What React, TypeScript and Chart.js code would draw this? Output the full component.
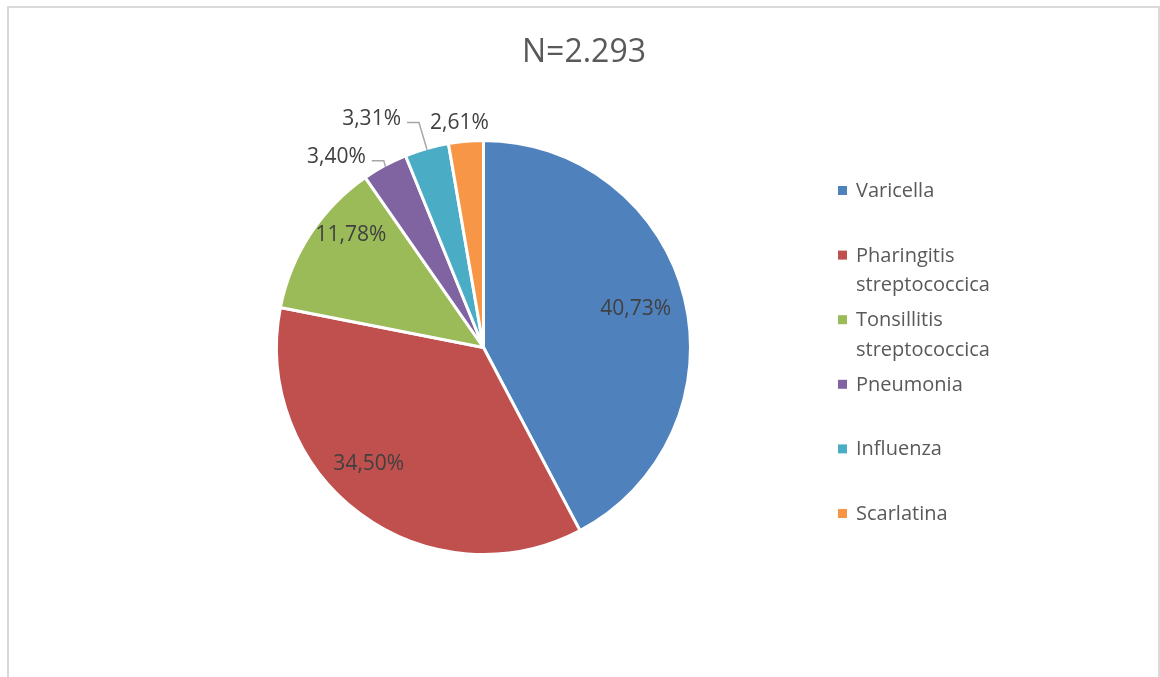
import React, { useEffect, useRef } from "react";
import { Chart, registerables } from "chart.js";

Chart.register(...registerables);

const titleText = "N=2.293";
const categories = [
  "Varicella",
  "Pharingitis streptococcica",
  "Tonsillitis streptococcica",
  "Pneumonia",
  "Influenza",
  "Scarlatina",
];
const percentages = [40.73, 34.5, 11.78, 3.4, 3.31, 2.61];
const sliceColors = ["#4F81BD", "#C0504D", "#9BBB59", "#8064A2", "#4BACC6", "#F79646"];

const FONT = "'Open Sans', 'DejaVu Sans', sans-serif";

// label placement: radius fraction, angle shift (deg), leader line
const labelPlacement = [
  { r: 0.76, dA: -0.9, leader: false },
  { r: 0.784, dA: 8.3, leader: false },
  { r: 0.844, dA: 7.5, leader: false },
  { r: 1.168, dA: -9, leader: true },
  { r: 1.236, dA: -10, leader: true },
  { r: 1.098, dA: -1.2, leader: false },
];

const fmt = (v: number) => v.toFixed(2).replace(".", ",") + "%";

const overlayPlugin = {
  id: "overlay",
  afterDraw(chart: any) {
    const ctx = chart.ctx as CanvasRenderingContext2D;
    const meta = chart.getDatasetMeta(0);
    const data = chart.data.datasets[0].data as number[];
    ctx.save();

    // Title
    ctx.fillStyle = "#595959";
    ctx.font = `32px ${FONT}`;
    ctx.textAlign = "center";
    ctx.textBaseline = "alphabetic";
    ctx.fillText(titleText, 584, 62);

    // Data labels
    ctx.font = `21px ${FONT}`;
    meta.data.forEach((arc: any, i: number) => {
      const p = arc.getProps(["x", "y", "startAngle", "endAngle", "outerRadius"], true);
      const mid = (p.startAngle + p.endAngle) / 2;
      const pl = labelPlacement[i];
      const a = mid + (pl.dA * Math.PI) / 180;
      const lx = p.x + pl.r * p.outerRadius * Math.cos(a);
      const ly = p.y + pl.r * p.outerRadius * Math.sin(a);
      const text = fmt(data[i]);
      const w = ctx.measureText(text).width;
      ctx.fillStyle = "#404040";
      ctx.textAlign = "center";
      ctx.fillText(text, lx, ly + 7.5);
      if (pl.leader) {
        const ex = p.x + (p.outerRadius - 1.5) * Math.cos(mid);
        const ey = p.y + (p.outerRadius - 1.5) * Math.sin(mid);
        const sx = lx + w / 2 + 6;
        const sy = ly + 5;
        ctx.strokeStyle = "#A6A6A6";
        ctx.lineWidth = 1.5;
        ctx.beginPath();
        ctx.moveTo(sx, sy);
        ctx.lineTo(sx + 12, sy);
        ctx.lineTo(ex, ey);
        ctx.stroke();
      }
    });

    // Legend
    ctx.font = `20px ${FONT}`;
    ctx.textAlign = "left";
    const labels = chart.data.labels as string[];
    const colors = chart.data.datasets[0].backgroundColor as string[];
    const maxW = 150;
    labels.forEach((label, i) => {
      const cy = 190 + i * 64.6;
      ctx.fillStyle = colors[i];
      ctx.fillRect(838, cy - 4, 9, 9);
      const words = label.split(" ");
      const lines: string[] = [];
      let cur = "";
      words.forEach((wd) => {
        const t = cur ? cur + " " + wd : wd;
        if (cur && ctx.measureText(t).width > maxW) {
          lines.push(cur);
          cur = wd;
        } else cur = t;
      });
      if (cur) lines.push(cur);
      ctx.fillStyle = "#595959";
      lines.forEach((ln, k) => ctx.fillText(ln, 856, cy + 7 + k * 29.5));
    });

    ctx.restore();
  },
};

export default function App() {
  const ref = useRef<HTMLCanvasElement>(null);
  useEffect(() => {
    if (!ref.current) return;
    const chart = new Chart(ref.current, {
      type: "pie",
      data: {
        labels: categories,
        datasets: [
          {
            data: percentages,
            backgroundColor: sliceColors,
            borderColor: "#FFFFFF",
            borderWidth: 3,
          },
        ],
      },
      options: {
        responsive: false,
        animation: false,
        devicePixelRatio: 1,
        layout: { padding: { left: 275, top: 139, right: 468, bottom: 121 } },
        plugins: {
          legend: { display: false },
          title: { display: false },
          tooltip: { enabled: false },
        },
      },
      plugins: [overlayPlugin],
    });
    return () => chart.destroy();
  }, []);

  return (
    <div
      style={{
        position: "fixed",
        left: 0,
        top: 0,
        width: 1160,
        height: 677,
        overflow: "hidden",
        background: "#fff",
      }}
    >
      <div
        style={{
          position: "absolute",
          left: 7,
          top: 6,
          width: 1153,
          height: 720,
          border: "2px solid #D9D9D9",
          boxSizing: "border-box",
        }}
      />
      <canvas
        ref={ref}
        width={1160}
        height={677}
        style={{ position: "absolute", left: 0, top: 0, width: 1160, height: 677 }}
      />
    </div>
  );
}
